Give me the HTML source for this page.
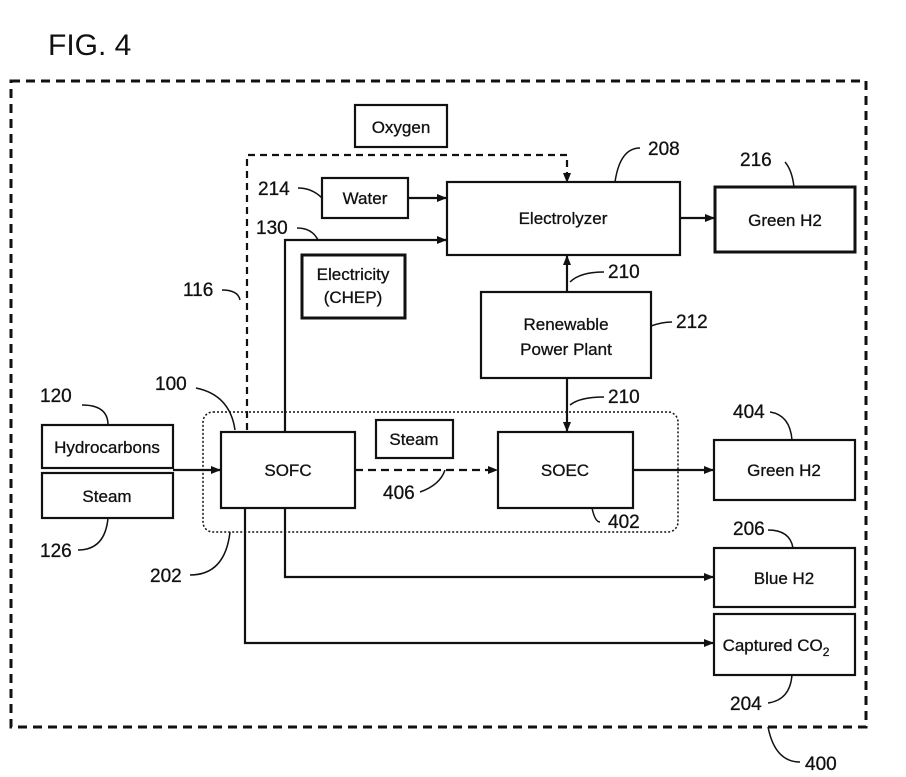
<!DOCTYPE html>
<html><head><meta charset="utf-8"><style>
html,body{margin:0;padding:0;background:#fff;}
svg{display:block;}
text{font-family:"Liberation Sans",sans-serif;fill:#111;}
</style></head><body>
<svg width="906" height="777" viewBox="0 0 906 777" xmlns="http://www.w3.org/2000/svg">
<defs>
<marker id="a" markerWidth="10" markerHeight="10" refX="9" refY="5" orient="auto" markerUnits="userSpaceOnUse">
<path d="M0,1 L10,5 L0,9 Z" fill="#111"/></marker>
</defs>
<text x="48" y="55" font-size="30">FIG. 4</text>
<rect x="11" y="81" width="855" height="646" fill="none" stroke="#111" stroke-width="3" stroke-dasharray="9,6"/>
<g fill="none" stroke="#111" stroke-width="2.2">
<rect x="355" y="105" width="92" height="42"/>
<rect x="322" y="178" width="86" height="40"/>
<rect x="447" y="182" width="233" height="73"/>
<rect x="715" y="187" width="140" height="65" stroke-width="3"/>
<rect x="302" y="255" width="103" height="63" stroke-width="3"/>
<rect x="481" y="292" width="170" height="86"/>
<rect x="203" y="412" width="475" height="120" rx="10" stroke-width="1.5" stroke-dasharray="2,2"/>
<rect x="221" y="432" width="134" height="76"/>
<rect x="376" y="420" width="77" height="38"/>
<rect x="498" y="432" width="135" height="76"/>
<rect x="714" y="440" width="141" height="60"/>
<rect x="714" y="548" width="141" height="59"/>
<rect x="714" y="614" width="141" height="61"/>
<rect x="42" y="425" width="131" height="43"/>
<rect x="42" y="473" width="131" height="45"/>
<path d="M247,430 V155 H567 V182" stroke-dasharray="7,5" marker-end="url(#a)"/>
<path d="M408,198 H446" marker-end="url(#a)"/>
<path d="M680,218 H714" marker-end="url(#a)"/>
<path d="M285,432 V240 H446" marker-end="url(#a)"/>
<path d="M567,292 V256" marker-end="url(#a)"/>
<path d="M567,378 V431" marker-end="url(#a)"/>
<path d="M355,470 H497" stroke-dasharray="8,5" marker-end="url(#a)"/>
<path d="M633,470 H713" marker-end="url(#a)"/>
<path d="M173,470 H220" marker-end="url(#a)"/>
<path d="M285,508 V577 H713" marker-end="url(#a)"/>
<path d="M245,508 V643 H713" marker-end="url(#a)"/>
<g stroke-width="1.5">
<path d="M82,405 Q108,405 108,425"/>
<path d="M196,388 Q230,395 235,430"/>
<path d="M222,290 Q238,290 240,300"/>
<path d="M298,188 Q312,188 322,198"/>
<path d="M297,228 Q312,228 318,240"/>
<path d="M640,148 Q620,148 615,182"/>
<path d="M785,162 Q792,170 794,187"/>
<path d="M604,272 Q580,272 570,282"/>
<path d="M672,322 Q662,322 651,326"/>
<path d="M604,397 Q580,397 570,405"/>
<path d="M770,412 Q790,415 792,440"/>
<path d="M768,530 Q790,530 793,548"/>
<path d="M420,492 Q440,485 445,470"/>
<path d="M600,522 Q595,522 592,508"/>
<path d="M78,550 Q105,550 108,518"/>
<path d="M190,575 Q225,575 230,532"/>
<path d="M768,703 Q790,700 792,675"/>
<path d="M800,762 Q775,762 768,727"/>
</g>
</g>
<g font-size="17" text-anchor="middle" stroke="#111" stroke-width="0.3">
<text x="401" y="133">Oxygen</text>
<text x="365" y="204">Water</text>
<text x="563" y="224">Electrolyzer</text>
<text x="785" y="226">Green H2</text>
<text x="353" y="280">Electricity</text>
<text x="353" y="303">(CHEP)</text>
<text x="566" y="330">Renewable</text>
<text x="566" y="355">Power Plant</text>
<text x="288" y="476">SOFC</text>
<text x="414" y="445">Steam</text>
<text x="565" y="476">SOEC</text>
<text x="784" y="476">Green H2</text>
<text x="784" y="584">Blue H2</text>
<text x="776" y="651">Captured CO<tspan font-size="12" dy="5">2</tspan></text>
<text x="107" y="453">Hydrocarbons</text>
<text x="107" y="502">Steam</text>
</g>
<g font-size="19" stroke="#111" stroke-width="0.3">
<text x="40" y="402">120</text>
<text x="155" y="390">100</text>
<text x="183" y="296">116</text>
<text x="258" y="195">214</text>
<text x="256" y="234">130</text>
<text x="648" y="155">208</text>
<text x="740" y="166">216</text>
<text x="608" y="278">210</text>
<text x="676" y="328">212</text>
<text x="608" y="403">210</text>
<text x="733" y="418">404</text>
<text x="733" y="535">206</text>
<text x="383" y="499">406</text>
<text x="608" y="528">402</text>
<text x="40" y="557">126</text>
<text x="150" y="582">202</text>
<text x="730" y="710">204</text>
<text x="805" y="770">400</text>
</g>
</svg>
</body></html>
